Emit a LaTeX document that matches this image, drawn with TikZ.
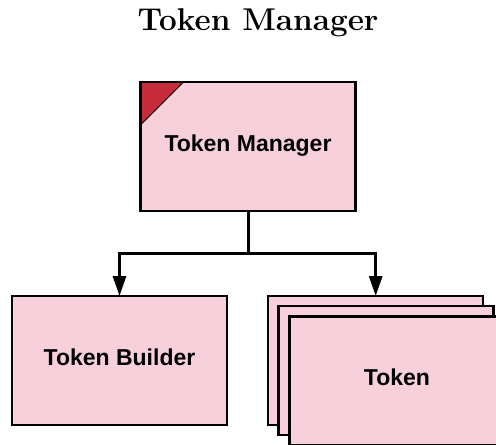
\documentclass[tikz,border=0pt]{standalone}
\usepackage{fontspec}
\setsansfont{Liberation Sans}
\usetikzlibrary{arrows.meta}
\usetikzlibrary{calc}

\definecolor{boxpink}{HTML}{F8D0DC}
\definecolor{cornerred}{HTML}{C72C3A}

\begin{document}
\begin{tikzpicture}[x=1pt,y=-1pt,
    block/.style={draw=black,fill=boxpink,line width=2.4pt,inner sep=0pt,outer sep=0pt,
        minimum width=215pt,minimum height=129pt,text height=17pt,text depth=8pt,
        font=\fontsize{23}{28}\selectfont\sffamily\bfseries},
    flagged/.style={path picture={
        \filldraw[fill=cornerred,draw=black,line width=0.8pt]
            (path picture bounding box.north west) -- ++(43,0) -- ++(-43,43) -- cycle;}},
    link/.style={line width=3pt},
    arrowed/.style={link,-{Triangle[length=20pt,width=13pt]}}]
\useasboundingbox (0,0) rectangle (496,445);
% title
\node[anchor=base,font=\fontsize{31.5}{36}\selectfont\bfseries] (title) at (258,30) {Token Manager};
% boxes
\node[block,flagged] (manager) at (248,146.5) {Token Manager};
\node[block] (builder) at (119.5,360.5) {Token Builder};
\node[block] (tokA) at (375.7,360.5) {};
\node[block] (tokB) at (386,370.5) {};
\node[block] (tokC) at (397,381) {Token};
% connectors
\coordinate (split) at (248,253);
\draw[link] (manager.south) -- (split);
\draw[arrowed] (split) -| (builder.north);
\draw[arrowed] (split) -| (tokA.north);
\end{tikzpicture}
\end{document}
